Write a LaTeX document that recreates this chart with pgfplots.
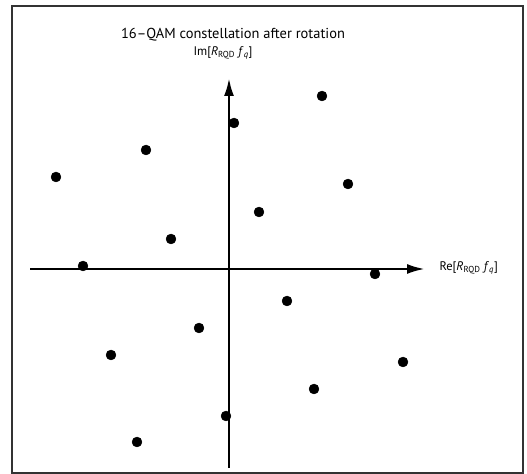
\documentclass[border=0pt]{standalone}
\usepackage{pgfplots}
\pgfplotsset{compat=1.18}
\usepackage{fontspec}
\setmainfont{PT Sans}
\usetikzlibrary{arrows.meta}
\begin{document}
\begin{tikzpicture}
\begin{axis}[
  scale only axis,
  width=395bp, height=390bp,
  xmin=-199, xmax=196, ymin=-199, ymax=191,
  axis lines=center,
  axis line style={line width=2.6pt, -{Latex[length=18bp,width=10bp]}},
  xtick=\empty, ytick=\empty,
  clip=false,
]
\addplot[only marks, mark=*, mark size=5pt, black] coordinates {
 (93,173) (5,146) (-83,119) (-173,92)
 (119,85) (30,57) (-58,30) (-146,3)
 (146,-5) (58,-32) (-30,-59) (-118,-86)
 (174,-93) (85,-120) (-3,-147) (-92,-173)
};
\draw[line width=1.3pt, black!80] (-217,263) rectangle (294,-204);
\path (-229,269) (298,-205);
\node[font=\fontsize{14.5}{17}\selectfont] at (4,234) {16–QAM constellation after rotation};
\node[font=\fontsize{12.5}{15}\selectfont] at (-6,216) {Im[\textit{R}\textsubscript{RQD} \textit{f}\textsubscript{\textit{q}}]};
\node[anchor=west, font=\fontsize{12.5}{15}\selectfont] at (207,1) {Re[\textit{R}\textsubscript{RQD} \textit{f}\textsubscript{\textit{q}}]};
\end{axis}
\end{tikzpicture}
\end{document}
